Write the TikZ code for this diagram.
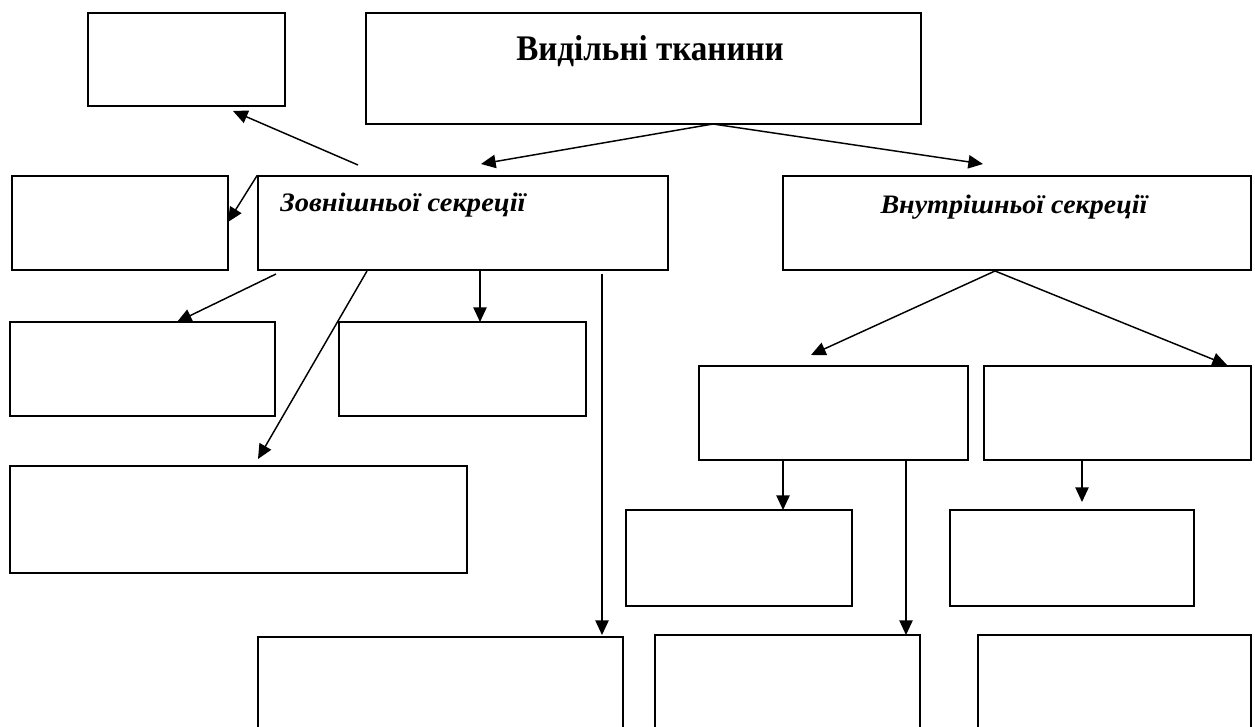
\documentclass[tikz,border=0pt]{standalone}
\usepackage{fontspec}
\setmainfont{Liberation Serif}
\usetikzlibrary{fit,arrows.meta}
\begin{document}
\begin{tikzpicture}[x=0.75pt,y=-0.75pt,
  box/.style={draw,line width=1.1pt,inner sep=0pt,rectangle},
  arr/.style={line width=1.1pt,-{Triangle[length=11pt,width=10pt]}},
  lbl/.style={inner sep=0pt,font=\bfseries\itshape\fontsize{20}{24}\selectfont}]
\useasboundingbox (0,0) rectangle (1255,727);
\clip (0,0) rectangle (1255,727);
% boxes
\node[box,fit={(88,13)(285,106)}] (tl) {};
\node[box,fit={(366,13)(921,124)}] (title) {};
\node[box,fit={(12,176)(228,270)}] (l2) {};
\node[box,fit={(258,176)(668,270)}] (zov) {};
\node[box,fit={(783,176)(1251,270)}] (vnu) {};
\node[box,fit={(10,322)(275,416)}] (a) {};
\node[box,fit={(339,322)(586,416)}] (b) {};
\node[box,fit={(10,466)(467,573)}] (c) {};
\node[box,fit={(258,637)(623,760)}] (d) {};
\node[box,fit={(699,366)(968,460)}] (m1) {};
\node[box,fit={(984,366)(1251,460)}] (m2) {};
\node[box,fit={(626,510)(852,606)}] (e) {};
\node[box,fit={(950,510)(1194,606)}] (g) {};
\node[box,fit={(655,635)(920,760)}] (f) {};
\node[box,fit={(978,635)(1251,760)}] (h) {};
% texts
\node[inner sep=0pt,anchor=base west,font=\bfseries\fontsize{27}{32}\selectfont] (titletext) at (516,61) {\scalebox{0.92}[1]{Видільні тканини}};
\node[lbl,anchor=base west] (zovtext) at (280,212) {\scalebox{1.07}[1]{Зовнішньої секреції}};
\node[lbl,anchor=base] (vnutext) at (1014,214) {\scalebox{1.05}[1]{Внутрішньої секреції}};
% connector points
\coordinate (tt) at (713,124);
\coordinate (zt1) at (358,165);
\coordinate (tle) at (233,111);
\coordinate (l2e) at (228,222);
\coordinate (zove) at (481,164);
\coordinate (vnue) at (983,164);
\coordinate (zs1) at (276,274);
\coordinate (ae) at (177,322);
\coordinate (zs2) at (367,271);
\coordinate (ce) at (258,459);
\coordinate (zs3) at (480,270);
\coordinate (be) at (480,322);
\coordinate (zs4) at (602,274);
\coordinate (de) at (602,635);
\coordinate (vs) at (995,271);
\coordinate (m1e) at (811,355);
\coordinate (m2e) at (1227,365);
\coordinate (m1s1) at (783,460);
\coordinate (ee) at (783,510);
\coordinate (m1s2) at (906,460);
\coordinate (fe) at (906,635);
\coordinate (m2s) at (1082,460);
\coordinate (ge) at (1082,502);
% connectors
\draw[arr] (tt) -- (zove);
\draw[arr] (tt) -- (vnue);
\draw[arr] (zt1) -- (tle);
\draw[arr] (zov.north west) -- (l2e);
\draw[arr] (zs1) -- (ae);
\draw[arr] (zs2) -- (ce);
\draw[arr] (zs3) -- (be);
\draw[arr] (zs4) -- (de);
\draw[arr] (vs) -- (m1e);
\draw[arr] (vs) -- (m2e);
\draw[arr] (m1s1) -- (ee);
\draw[arr] (m1s2) -- (fe);
\draw[arr] (m2s) -- (ge);
\end{tikzpicture}
\end{document}
